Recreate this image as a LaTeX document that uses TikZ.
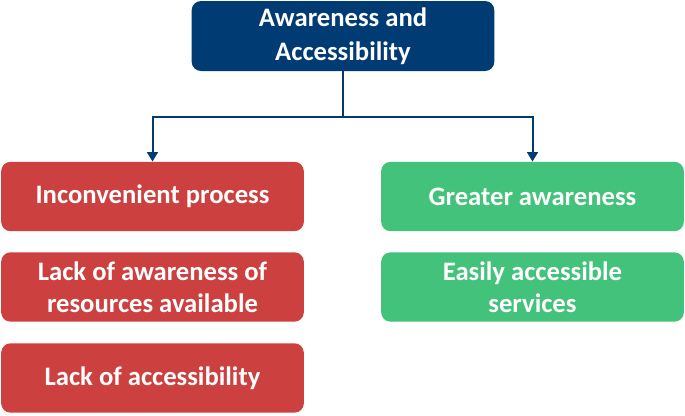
\documentclass[tikz,border=0pt]{standalone}
\usepackage{fontspec}
\setmainfont{Carlito}
\usetikzlibrary{positioning, arrows.meta, calc}

\definecolor{navyblue}{RGB}{0,59,115}
\definecolor{boxred}{RGB}{204,64,64}
\definecolor{boxgreen}{RGB}{66,194,122}

\begin{document}
\begin{tikzpicture}[
    x=0.75pt, y=-0.75pt,
    every node/.style={rectangle, rounded corners=7pt, text=white, align=center,
        font=\fontsize{20}{24}\selectfont\bfseries, inner sep=0pt},
    topbox/.style={fill=navyblue, minimum width=227pt, minimum height=52.5pt},
    redbox/.style={fill=boxred, minimum width=227pt, minimum height=52pt},
    greenbox/.style={fill=boxgreen, minimum width=227pt, minimum height=52pt},
    link/.style={draw=navyblue, line width=1.5pt}
]
    \useasboundingbox (0,0) rectangle (685,415);
    % Top
    \node[topbox] (aa) at (343,36) {Awareness and\\[1.5pt]Accessibility};
    % Barriers
    \node[redbox] (inc) at (152.5,196.5) {Inconvenient process};
    \node[redbox] (lack) at (152.5,287) {Lack of awareness of\\resources available};
    \node[redbox] (acc) at (152.5,378) {Lack of accessibility};
    % Drivers
    \node[greenbox] (grt) at (532.5,196.5) {Greater awareness};
    \node[greenbox] (easy) at (532.5,287) {Easily accessible\\services};
    % Connectors
    \coordinate (j) at (343,117);
    \draw[link] (aa.south) -- (j);
    \draw[link, -{Triangle[width=8pt,length=7pt]}] (j) -| (inc.north);
    \draw[link, -{Triangle[width=8pt,length=7pt]}] (j) -| (grt.north);
\end{tikzpicture}
\end{document}
